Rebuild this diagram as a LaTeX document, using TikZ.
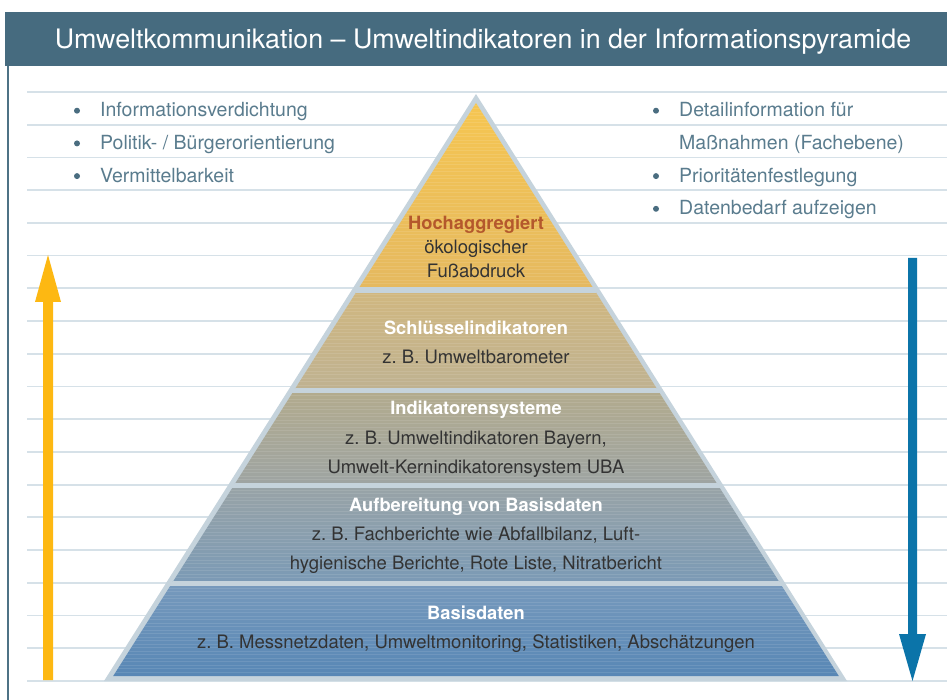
\documentclass[tikz,border=0pt]{standalone}
\usepackage{fontspec}
\setmainfont{TeX Gyre Heros}
\frenchspacing
\definecolor{titlebg}{HTML}{466B7F}
\definecolor{frame}{HTML}{4E7285}
\definecolor{rule}{HTML}{D6E1E8}
\definecolor{pyrborder}{HTML}{C5D3DC}
\definecolor{bultext}{HTML}{5A7C8E}
\definecolor{buldot}{HTML}{4A6D80}
\definecolor{pyrtext}{HTML}{333333}
\definecolor{hochcol}{HTML}{B4582C}
\definecolor{arrowY}{HTML}{FDB812}
\definecolor{arrowB}{HTML}{0B74A9}
\definecolor{t1a}{HTML}{F6C651}
\definecolor{t1b}{HTML}{E5B960}
\definecolor{t2a}{HTML}{D0B780}
\definecolor{t2b}{HTML}{BFB291}
\definecolor{t3a}{HTML}{B2AB8E}
\definecolor{t3b}{HTML}{9EA4A2}
\definecolor{t4a}{HTML}{98A3A7}
\definecolor{t4b}{HTML}{7B9AB5}
\definecolor{t5a}{HTML}{7699BC}
\definecolor{t5b}{HTML}{5887B5}
\begin{document}
\begin{tikzpicture}[x=1pt,y=-1pt,
  bul/.style={font=\fontsize{19.5}{22}\selectfont, text=bultext, anchor=base west, inner sep=0},
  bdot/.style={circle, fill=buldot, inner sep=0, minimum size=6pt},
  hd/.style={font=\fontsize{18.3}{21}\selectfont\bfseries, text=white, anchor=base, inner sep=0},
  tx/.style={font=\fontsize{18.5}{21}\selectfont, text=pyrtext, anchor=base, inner sep=0},
  rulestyle/.style={draw=rule, line width=1.8pt}]
\useasboundingbox (0,0) rectangle (947,700);
\fill[white] (0,0) rectangle (947,700);
% title bar
\fill[titlebg] (5,12) rectangle (947,66);
\node[font=\fontsize{26.8}{30}\selectfont, text=white, anchor=base, inner sep=0] (title) at (483,49) {Umweltkommunikation – Umweltindikatoren in der Informationspyramide};
\draw[frame, line width=2pt] (8,66) -- (8,700);
% ruled lines
\foreach \k in {0,...,18} \draw[rulestyle] (27,{92+\k*32.72}) -- (947,{92+\k*32.72});
% pyramid
\fill[pyrborder] (476,94) -- (104,681) -- (847,681) -- cycle;
\begin{scope}
\clip (476,103) -- (113.2,676) -- (838.8,676) -- cycle;
\shade[top color=t1a, bottom color=t1b] (100,100) rectangle (850,287);
\shade[top color=t2a, bottom color=t2b] (100,293) rectangle (850,388);
\shade[top color=t3a, bottom color=t3b] (100,393) rectangle (850,483);
\shade[top color=t4a, bottom color=t4b] (100,488) rectangle (850,581);
\shade[top color=t5a, bottom color=t5b] (100,586) rectangle (850,676);
\foreach \y in {105,108.5,...,675} \draw[white, opacity=0.10, line width=0.7pt] (100,\y) -- (850,\y);
\fill[pyrborder] (100,287) rectangle (850,293);
\fill[pyrborder] (100,388) rectangle (850,393);
\fill[pyrborder] (100,483) rectangle (850,488);
\fill[pyrborder] (100,581) rectangle (850,586);
\end{scope}
% arrows
\fill[arrowY] (43,680) -- (43,302) -- (35,302) -- (48,255) -- (61,302) -- (53,302) -- (53,680) -- cycle;
\fill[arrowB] (908,258) -- (908,634) -- (899,634) -- (912.5,681) -- (926,634) -- (917,634) -- (917,258) -- cycle;
% bullets left
\node[bdot] (dl1) at (77,110.7) {};
\node[bdot] (dl2) at (77,143.4) {};
\node[bdot] (dl3) at (77,176.1) {};
\node[bul] (l1) at (100,116.7) {Informationsverdichtung};
\node[bul] (l2) at (100,149.4) {Politik- / Bürgerorientierung};
\node[bul] (l3) at (100,182.1) {Vermittelbarkeit};
% bullets right
\node[bdot] (dr1) at (656,110.7) {};
\node[bdot] (dr3) at (656,176.1) {};
\node[bdot] (dr4) at (656,208.8) {};
\node[bul] (r1) at (679,116.7) {Detailinformation für};
\node[bul] (r2) at (679,149.4) {Maßnahmen (Fachebene)};
\node[bul] (r3) at (679,182.1) {Prioritätenfestlegung};
\node[bul] (r4) at (679,214.8) {Datenbedarf aufzeigen};
% tier texts
\node[hd, text=hochcol] (h1) at (476,229.5) {Hochaggregiert};
\node[tx] (a1) at (476,253.5) {ökologischer};
\node[tx] (b1) at (476,277.5) {Fußabdruck};
\node[hd] (h2) at (476,334.5) {Schlüsselindikatoren};
\node[tx] (a2) at (476,363.5) {z. B. Umweltbarometer};
\node[hd] (h3) at (476,414) {Indikatorensysteme};
\node[tx] (a3) at (476,444) {z. B. Umweltindikatoren Bayern,};
\node[tx] (b3) at (476,473) {Umwelt-Kernindikatorensystem UBA};
\node[hd] (h4) at (476,511.5) {Aufbereitung von Basisdaten};
\node[tx] (a4) at (476,540.5) {z. B. Fachberichte wie Abfallbilanz, Luft-};
\node[tx] (b4) at (476,569.5) {hygienische Berichte, Rote Liste, Nitratbericht};
\node[hd] (h5) at (476,619.5) {Basisdaten};
\node[tx] (a5) at (476,648.5) {z. B. Messnetzdaten, Umweltmonitoring, Statistiken, Abschätzungen};
\end{tikzpicture}
\end{document}
